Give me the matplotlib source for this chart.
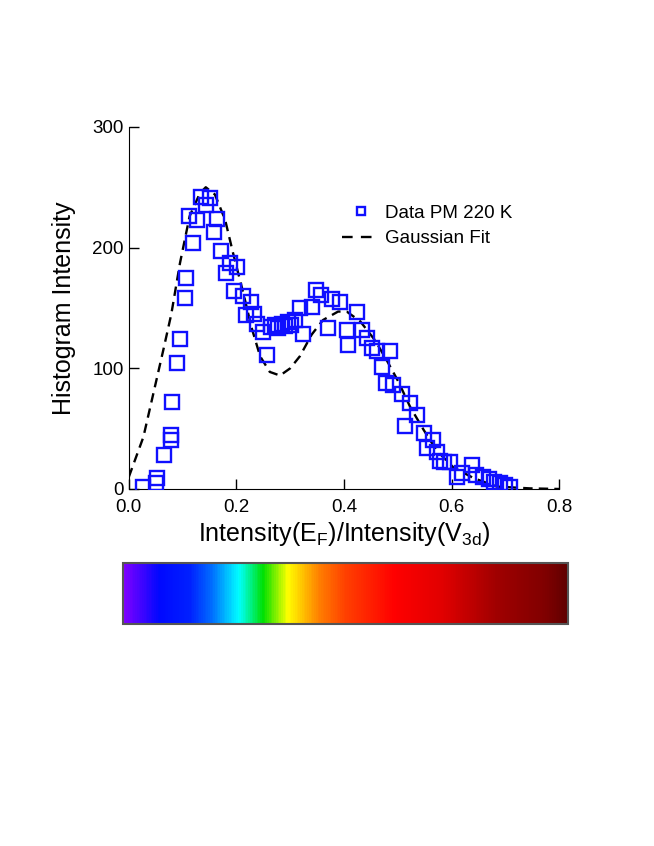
import matplotlib
matplotlib.use('Agg')
import matplotlib.pyplot as plt
import matplotlib.colors as mcolors
import matplotlib.colorbar as mcolorbar
from matplotlib.lines import Line2D

plt.rcParams['font.family'] = ['Liberation Sans', 'DejaVu Sans']

# histogram data
data_x = [0.027, 0.051, 0.053, 0.065, 0.078, 0.078, 0.081, 0.089, 0.096, 0.104,
          0.106, 0.112, 0.120, 0.127, 0.135, 0.143, 0.151, 0.159, 0.163, 0.172,
          0.180, 0.188, 0.195, 0.202, 0.212, 0.217, 0.227, 0.233, 0.239, 0.249,
          0.256, 0.265, 0.272, 0.278, 0.284, 0.290, 0.296, 0.302, 0.308, 0.318,
          0.324, 0.340, 0.348, 0.358, 0.371, 0.377, 0.393, 0.405, 0.408, 0.424,
          0.433, 0.442, 0.452, 0.461, 0.470, 0.479, 0.486, 0.492, 0.507, 0.514,
          0.523, 0.535, 0.548, 0.554, 0.566, 0.572, 0.579, 0.585, 0.597, 0.610,
          0.620, 0.638, 0.646, 0.659, 0.670, 0.678, 0.690, 0.700, 0.709]
data_y = [2, 5, 9, 28, 41, 45, 72, 104, 124, 158,
          175, 226, 204, 223, 242, 235, 241, 213, 224, 197,
          179, 187, 164, 184, 160, 144, 155, 145, 137, 130,
          111, 134, 136, 133, 137, 135, 138, 136, 140, 150,
          128, 151, 165, 161, 133, 157, 155, 132, 119, 147,
          132, 125, 117, 114, 101, 88, 114, 86, 79, 52,
          71, 61, 46, 34, 41, 31, 23, 22, 22, 10,
          13, 20, 12, 10, 8, 6, 5, 3, 2]

# gaussian fit curve
fit_x = [0.0, 0.027, 0.045, 0.064, 0.079, 0.095, 0.113, 0.132, 0.143, 0.160,
         0.179, 0.194, 0.213, 0.228, 0.244, 0.262, 0.281, 0.300, 0.318, 0.340,
         0.361, 0.389, 0.405, 0.430, 0.458, 0.479, 0.501, 0.523, 0.548, 0.572,
         0.603, 0.641, 0.684, 0.746, 0.800]
fit_y = [10, 43, 78, 115, 145, 187, 226, 245, 250, 244,
         223, 195, 162, 134, 110, 97, 94, 100, 110, 128,
         140, 147, 147, 139, 123, 107, 89, 68, 49, 32,
         18, 9, 2, 0.5, 0]

# colour bar stops
cbar_pos = [0.0, 0.08, 0.15, 0.20, 0.26, 0.315, 0.37, 0.44, 0.50, 0.61, 0.72, 0.84, 0.95, 1.0]
cbar_cols = ['#8000ff', '#0008ff', '#0020ff', '#0070ff', '#00ffff', '#00e000', '#ffff00',
             '#ff8000', '#ff4000', '#ff0000', '#e00000', '#a00000', '#800000', '#600000']

fig = plt.figure(figsize=(6.54, 8.46), dpi=100)
ax = fig.add_axes([0.197, 0.422, 0.658, 0.428])

ax.plot(data_x, data_y, 's', mfc='none', mec='#1010ff', mew=1.7, ms=10.5, zorder=3)
ax.plot(fit_x, fit_y, '--', color='black', lw=1.7, dashes=(4, 2.6), zorder=2)

ax.set_xlim(0, 0.8)
ax.set_ylim(0, 300)
ax.set_xticks([0.0, 0.2, 0.4, 0.6, 0.8])
ax.set_xticklabels(['0.0', '0.2', '0.4', '0.6', '0.8'])
ax.set_yticks([0, 100, 200, 300])
ax.spines['top'].set_visible(False)
ax.spines['right'].set_visible(False)
ax.tick_params(direction='in', length=7, width=1, labelsize=13.5)
ax.tick_params(axis='x', pad=7)
ax.tick_params(axis='y', pad=3.5)
ax.set_xlabel(r'Intensity(E$_\mathregular{F}$)/Intensity(V$_\mathregular{3d}$)', fontsize=18, labelpad=3)
ax.set_ylabel('Histogram Intensity', fontsize=18, labelpad=12)

# legend proxies (the legend dash is longer than on the curve)
h_data = Line2D([], [], ls='none', marker='s', mfc='none', mec='#1010ff', mew=1.7, ms=6)
h_fit = Line2D([], [], ls='--', color='black', lw=1.7, dashes=(4.5, 3.5))
ax.legend([h_data, h_fit], ['Data PM 220 K', 'Gaussian Fit'],
          loc='upper left', bbox_to_anchor=(0.495, 0.785), frameon=False,
          fontsize=13.5, handlelength=2.0, handletextpad=0.3,
          labelspacing=0.45, borderpad=0, borderaxespad=0)

cax = fig.add_axes([0.188, 0.262, 0.680, 0.072])
cmap = mcolors.LinearSegmentedColormap.from_list('bar', list(zip(cbar_pos, cbar_cols)))
cb = mcolorbar.ColorbarBase(cax, cmap=cmap, orientation='horizontal')
cb.set_ticks([])
cb.outline.set_edgecolor('#555555')
cb.outline.set_linewidth(1.5)

fig.savefig('out.png', dpi=100)
